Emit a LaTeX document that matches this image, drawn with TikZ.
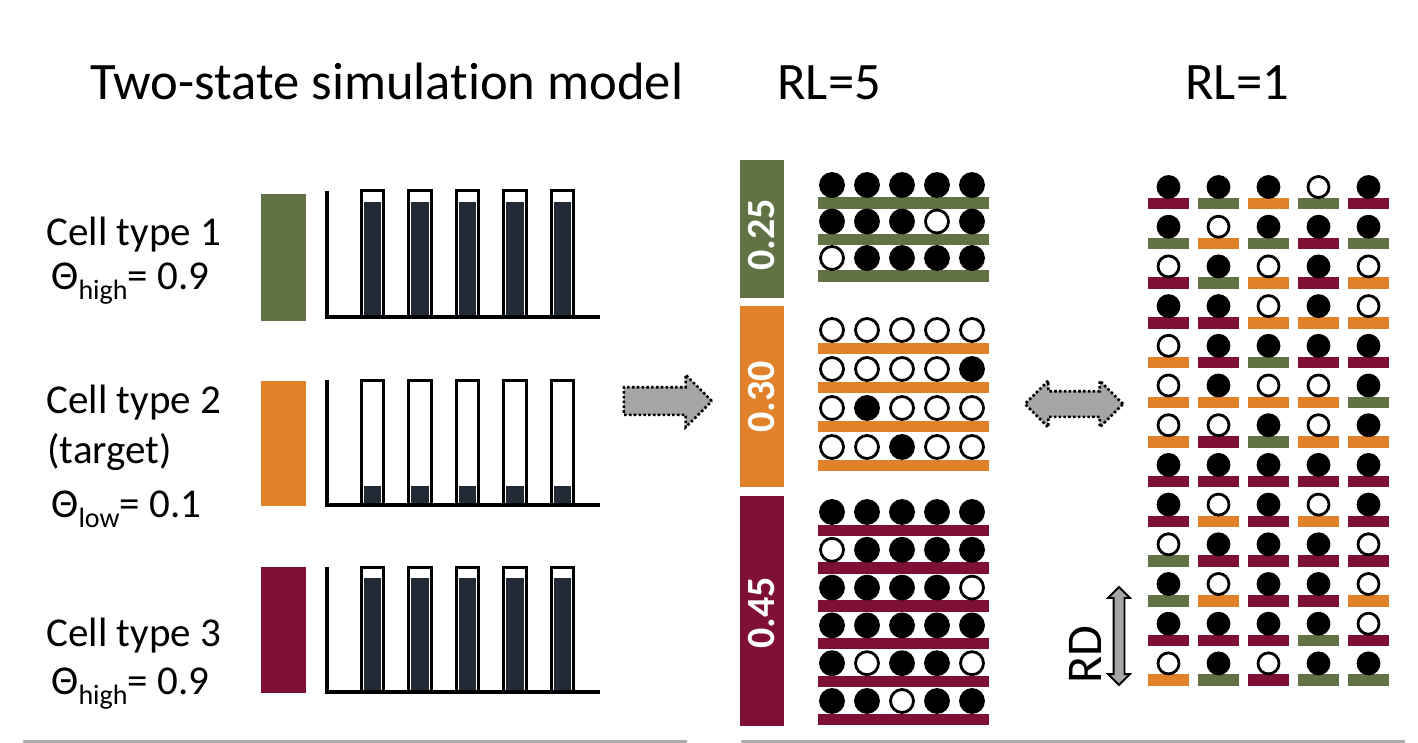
\documentclass[tikz,border=0pt]{standalone}
\usepackage{fontspec}
\setmainfont{Carlito}[Ligatures=NoCommon]
\usetikzlibrary{shapes.arrows}
\definecolor{c1}{HTML}{617244}
\definecolor{c2}{HTML}{E1822B}
\definecolor{c3}{HTML}{7E1034}
\definecolor{barfill}{HTML}{222A35}
\definecolor{arrowgray}{HTML}{A6A6A6}
\definecolor{panelgray}{HTML}{ABABAB}
\tikzset{
	heading/.style={anchor=base west,inner sep=0pt,font=\fontsize{26.3}{30}\selectfont},
	celllabel/.style={anchor=base west,inner sep=0pt,font=\fontsize{20.5}{24}\selectfont},
	fraclabel/.style={rotate=90,inner sep=0pt,text=white,font=\fontsize{20}{22}\selectfont\bfseries},
	dot/.style={circle,draw=black,line width=1.4pt,inner sep=0pt,minimum size=#1},
	d0/.style={fill=white},
	d1/.style={fill=black},
	axisline/.style={line width=2pt},
	barframe/.style={line width=1.5pt},
	blockarrow/.style={draw=black,fill=arrowgray,line width=1.3pt,dash pattern=on 1.3pt off 1.1pt},
}
\newcommand{\thetasub}[1]{Θ\raisebox{-0.55ex}{\fontsize{14}{14}\selectfont #1}}

\begin{document}
\begin{tikzpicture}[x=0.5pt,y=-0.5pt]
	\useasboundingbox (0,0) rectangle (1418,743);

	% headings
	\node[heading] (title) at (90,100) {Two-state simulation model};
	\node[heading] (rlfive) at (777,100) {RL=5};
	\node[heading] (rlone) at (1185,100) {RL=1};

	% cell types
	\node[celllabel] (ct1) at (46,246) {Cell type 1};
	\node[celllabel] (th1) at (51,289) {\thetasub{high}= 0.9};
	\node[celllabel] (ct2) at (46,413) {Cell type 2};
	\node[celllabel] (tg2) at (47,463) {(target)};
	\node[celllabel] (th2) at (51,517) {\thetasub{low}= 0.1};
	\node[celllabel] (ct3) at (46,646) {Cell type 3};
	\node[celllabel] (th3) at (51,694) {\thetasub{high}= 0.9};

	% colour blocks and bar charts
	\foreach \t/\ya/\yb/\lvl/\ba/\bb in {1/191/317/202/194/321, 2/380/505/486/381/506, 3/567/692/578/567/693} {
		\fill[c\t] (261,\ba) rectangle (306,\bb);
		\foreach \k in {0,...,4} {
			\pgfmathsetmacro\xl{361+47.5*\k}
			\fill[barfill] (\xl+2.5,\lvl) rectangle (\xl+20,\yb);
			\draw[barframe] (\xl,\yb) |- (\xl+22.5,\ya) -- (\xl+22.5,\yb);
		}
		\draw[axisline] (327,\ya) -- (327,\yb) -- (600,\yb);
	}

	% RL=5
	\fill[c1] (740,160) rectangle (784,298);
	\node[fraclabel] (f1) at (762,235) {0.25};
	\foreach \pat [count=\r] in {{1,1,1,1,1},{1,1,1,0,1},{0,1,1,1,1}} {
		\pgfmathsetmacro\yc{185+36.5*(\r-1)}
		\fill[c1] (818,\yc+12.5) rectangle (989,\yc+24);
		\foreach \v [count=\c] in \pat
			\node[dot=11.5pt,d\v] (a-\r-\c) at ({832+35*(\c-1)},\yc) {};
	}
	\fill[c2] (740,306) rectangle (784,487);
	\node[fraclabel] (f2) at (762,397) {0.30};
	\foreach \pat [count=\r] in {{0,0,0,0,0},{0,0,0,0,1},{0,1,0,0,0},{0,0,1,0,0}} {
		\pgfmathsetmacro\yc{330+39*(\r-1)}
		\fill[c2] (818,\yc+12.5) rectangle (989,\yc+24);
		\foreach \v [count=\c] in \pat
			\node[dot=11.5pt,d\v] (b-\r-\c) at ({832+35*(\c-1)},\yc) {};
	}
	\fill[c3] (740,496) rectangle (784,726);
	\node[fraclabel] (f3) at (762,613) {0.45};
	\foreach \pat [count=\r] in {{1,1,1,1,1},{0,1,1,1,1},{1,1,1,1,0},{1,1,1,1,1},{1,0,1,1,0},{1,1,0,1,1}} {
		\pgfmathsetmacro\yc{512+37.8*(\r-1)}
		\fill[c3] (818,\yc+12.5) rectangle (989,\yc+24);
		\foreach \v [count=\c] in \pat
			\node[dot=11.5pt,d\v] (m-\r-\c) at ({832+35*(\c-1)},\yc) {};
	}

	% RL=1
	\foreach \pat [count=\r] in {
		{1/3,1/1,1/2,0/1,1/3},{1/1,0/2,1/1,1/3,1/1},{0/3,1/1,0/2,1/3,0/2},
		{1/3,1/3,0/2,1/2,0/2},{0/2,1/3,1/1,1/3,1/3},{0/2,1/2,0/2,0/2,1/1},
		{0/2,0/3,1/1,0/2,1/2},{1/3,1/3,1/3,1/3,1/3},{1/3,0/2,1/3,0/2,1/3},
		{0/1,1/3,1/3,1/3,0/3},{1/1,0/2,1/3,1/3,0/2},{1/3,1/3,1/3,1/1,0/3},
		{0/2,1/1,0/3,1/1,1/1}} {
		\pgfmathsetmacro\yc{187+39.7*(\r-1)}
		\foreach \v/\t [count=\c] in \pat {
			\pgfmathsetmacro\xc{1168.5+50*(\c-1)}
			\fill[c\t] (\xc-20.5,\yc+11) rectangle (\xc+20.5,\yc+22.5);
			\node[dot=10.5pt,d\v] (s-\r-\c) at (\xc,\yc) {};
		}
	}

	% arrows
	\node[single arrow,blockarrow,minimum height=44pt,inner sep=6.25pt,single arrow head extend=6.25pt] (fwd) at (661,401) {};
	\node[double arrow,blockarrow,minimum height=49pt,inner sep=5.75pt,double arrow head extend=5.25pt] (swap) at (1074,404) {};
	\node[double arrow,rotate=90,draw=black,fill=arrowgray,line width=0.9pt,minimum height=49pt,inner sep=2.25pt,double arrow head extend=2.75pt] (rdarrow) at (1119,636) {};
	\node[rotate=90,inner sep=0pt,font=\fontsize{25}{28}\selectfont] (rd) at (1085,655) {RD};

	% panel edges
	\draw[panelgray,line width=1.5pt,line cap=round] (24,741.5) -- (686,741.5);
	\draw[panelgray,line width=1.5pt,line cap=round] (742,741.5) -- (1404,741.5);
\end{tikzpicture}
\end{document}
